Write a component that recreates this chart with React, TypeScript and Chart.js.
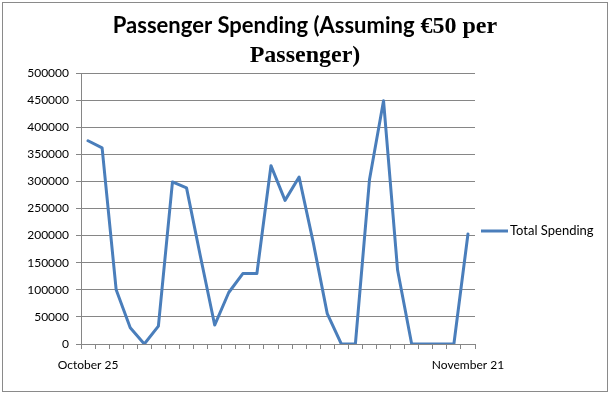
import React, { useEffect, useRef } from "react";
import { Chart, registerables } from "chart.js";

Chart.register(...registerables);

const categories = [
  "October 25", "October 26", "October 27", "October 28", "October 29", "October 30", "October 31",
  "November 1", "November 2", "November 3", "November 4", "November 5", "November 6", "November 7",
  "November 8", "November 9", "November 10", "November 11", "November 12", "November 13", "November 14",
  "November 15", "November 16", "November 17", "November 18", "November 19", "November 20", "November 21",
];

const totalSpending = [
  375000, 362000, 100000, 30000, 0, 33000, 299000, 288000, 160000, 35000, 95000, 130000, 130000, 329000,
  265000, 308000, 188000, 56000, 0, 0, 303000, 449000, 136000, 0, 0, 0, 0, 203000,
];

const seriesName = "Total Spending";
const titleLine1Sans = "Passenger Spending (Assuming";
const titleLine1Serif = " €50 per";
const titleLine2Serif = "Passenger)";

const yMin = 0;
const yMax = 500000;
const yStep = 50000;

const LINE_COLOR = "#4A7EBB";
const GRID_COLOR = "#868686";
const SANS = "Lato, 'DejaVu Sans', sans-serif";
const SERIF = "'Liberation Serif', 'DejaVu Serif', serif";

const decorPlugin = {
  id: "decor",
  beforeDraw(chart: any) {
    const ctx = chart.ctx;
    ctx.save();
    ctx.fillStyle = "#ffffff";
    ctx.fillRect(0, 0, chart.width, chart.height);
    ctx.strokeStyle = "#8a8a8a";
    ctx.lineWidth = 1;
    ctx.strokeRect(2.5, 2.5, chart.width - 4, chart.height - 5);
    ctx.restore();
  },
  afterDraw(chart: any) {
    const ctx = chart.ctx;
    ctx.save();
    ctx.fillStyle = "#000000";
    ctx.textBaseline = "alphabetic";
    ctx.textAlign = "left";
    const cx = 305;
    const sansFont = `bold 22px ${SANS}`;
    const serifFont = `bold 24px ${SERIF}`;
    ctx.font = sansFont;
    const w1 = ctx.measureText(titleLine1Sans).width;
    ctx.font = serifFont;
    const w2 = ctx.measureText(titleLine1Serif).width;
    const x = cx - (w1 + w2) / 2;
    ctx.font = sansFont;
    ctx.fillText(titleLine1Sans, x, 33);
    ctx.font = serifFont;
    ctx.fillText(titleLine1Serif, x + w1, 33);
    ctx.textAlign = "center";
    ctx.fillText(titleLine2Serif, cx, 62);
    const ly = 231;
    ctx.strokeStyle = LINE_COLOR;
    ctx.lineWidth = 3;
    ctx.beginPath();
    ctx.moveTo(481, ly);
    ctx.lineTo(508, ly);
    ctx.stroke();
    ctx.textAlign = "left";
    ctx.textBaseline = "middle";
    ctx.font = `13px ${SANS}`;
    ctx.fillText(seriesName, 510, ly);
    ctx.restore();
  },
};

export default function App() {
  const ref = useRef<HTMLCanvasElement | null>(null);

  useEffect(() => {
    document.body.style.margin = "0";
    const canvas = ref.current;
    if (!canvas) return;
    const last = categories.length - 1;
    const chart = new Chart(canvas, {
      type: "line",
      data: {
        labels: categories,
        datasets: [
          {
            label: seriesName,
            data: totalSpending,
            borderColor: LINE_COLOR,
            backgroundColor: LINE_COLOR,
            borderWidth: 3,
            borderJoinStyle: "round",
            borderCapStyle: "round",
            pointRadius: 0,
            tension: 0,
            fill: false,
          },
        ],
      },
      options: {
        responsive: false,
        animation: false,
        devicePixelRatio: 1,
        layout: { padding: { top: 73, right: 134, bottom: 0, left: 0 } },
        plugins: {
          legend: { display: false },
          title: { display: false },
          tooltip: { enabled: false },
        },
        scales: {
          x: {
            type: "category",
            offset: true,
            grid: {
              display: true,
              drawOnChartArea: false,
              drawTicks: true,
              tickLength: 5,
              color: GRID_COLOR,
              offset: true,
            },
            border: { color: GRID_COLOR },
            ticks: {
              autoSkip: false,
              maxRotation: 0,
              minRotation: 0,
              padding: 9,
              color: "#000000",
              font: { family: SANS, size: 12 },
              callback: (_v: any, i: number) => (i === 0 || i === last ? categories[i] : ""),
            },
            afterFit: (scale: any) => {
              scale.height = 50;
            },
          },
          y: {
            min: yMin,
            max: yMax,
            ticks: {
              stepSize: yStep,
              padding: 7,
              color: "#000000",
              font: { family: SANS, size: 12 },
              callback: (v: any) => String(v),
            },
            grid: {
              color: GRID_COLOR,
              tickLength: 5,
              drawTicks: true,
            },
            border: { color: GRID_COLOR },
            afterFit: (scale: any) => {
              scale.width = 81;
            },
          },
        },
      },
      plugins: [decorPlugin],
    });
    return () => chart.destroy();
  }, []);

  return <canvas ref={ref} width={609} height={394} style={{ display: "block" }} />;
}
